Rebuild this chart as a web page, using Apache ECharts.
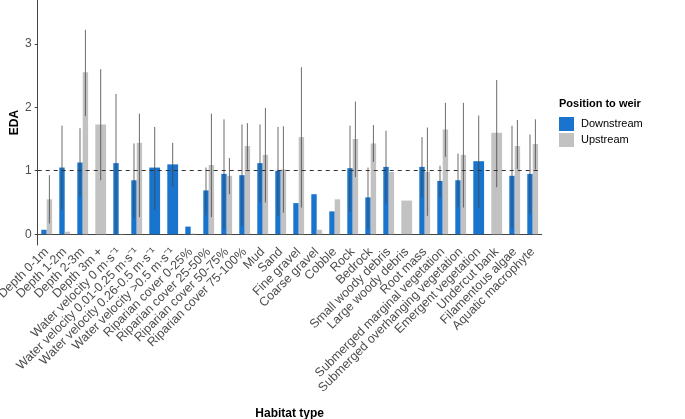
<!DOCTYPE html>
<html>
<head>
<meta charset="utf-8">
<script src="https://cdn.jsdelivr.net/npm/echarts@6/dist/echarts.min.js"></script>
<style>
  html, body { margin: 0; padding: 0; background: #fff; }
  #chart { width: 685px; height: 419px; }
</style>
</head>
<body>
<div id="chart"></div>
<script>
"use strict";

// EDA by habitat type, downstream vs upstream of the weir
var categories = [
    'Depth 0-1m', 'Depth 1-2m', 'Depth 2-3m', 'Depth 3m +',
    'Water velocity 0 m·s⁻¹', 'Water velocity 0.01-0.25 m·s⁻¹',
    'Water velocity 0.26-0.5 m·s⁻¹', 'Water velocity >0.5 m·s⁻¹',
    'Riparian cover 0-25%', 'Riparian cover 25-50%', 'Riparian cover 50-75%', 'Riparian cover 75-100%',
    'Mud', 'Sand', 'Fine gravel', 'Coarse gravel', 'Cobble', 'Rock', 'Bedrock',
    'Small woody debris', 'Large woody debris', 'Root mass',
    'Submerged marginal vegetation', 'Submerged overhanging vegetation',
    'Emergent vegetation', 'Undercut bank', 'Filamentous algae', 'Aquatic macrophyte'
];

var downMean = [0.07, 1.05, 1.13, null, 1.12, 0.85, 1.05, 1.10, 0.12, 0.69, 0.95, 0.93, 1.12, 1.00,
    0.49, 0.63, 0.36, 1.04, 0.58, 1.06, null, 1.06, 0.84, 0.85, 1.15, null, 0.92, 0.95];
var downLo = [null, 0.38, 0.59, null, 0.02, 0.25, 0.39, 0.75, null, 0.30, 0.08, 0.13, 0.50, 0.29,
    null, null, null, 0.35, 0.08, 0.49, null, 0.58, 0.58, 0.42, 0.42, null, 0.10, 0.31];
var downHi = [null, 1.71, 1.67, null, 2.21, 1.43, 1.69, 1.44, null, 1.05, 1.81, 1.73, 1.73, 1.69,
    null, null, null, 1.71, 1.05, 1.63, null, 1.53, 1.08, 1.27, 1.87, null, 1.71, 1.57];

var upMean = [0.55, 0.04, 2.55, 1.73, 0.005, 1.44, null, null, 0.01, 1.09, 0.92, 1.39, 1.25, 1.02,
    1.53, 0.07, 0.55, 1.50, 1.43, 0.98, 0.53, 0.98, 1.65, 1.25, null, 1.60, 1.39, 1.42];
var upLo = [0.17, null, 1.86, 0.85, null, 0.27, null, null, null, 0.27, 0.63, 1.02, 0.50, 0.34,
    0.42, null, null, 0.90, 1.14, null, null, 0.29, 1.22, 0.42, null, 0.74, 1.03, 1.02];
var upHi = [0.93, null, 3.22, 2.60, null, 1.90, null, null, null, 1.90, 1.20, 1.75, 1.99, 1.70,
    2.63, null, null, 2.09, 1.72, null, null, 1.68, 2.07, 2.07, null, 2.43, 1.80, 1.81];

var yTicks = [0, 1, 2, 3];

var BLUE = '#1874CD';
var GREY = '#C2C2C2';

// [cat, mean, lo, hi, slot, nGroups]
function buildData(mean, lo, hi, isUp) {
    var out = [];
    for (var i = 0; i < categories.length; i++) {
        if (mean[i] === null) continue;
        var both = downMean[i] !== null && upMean[i] !== null;
        out.push([i, mean[i],
            lo[i] === null ? 0 : lo[i],
            hi[i] === null ? 0 : hi[i],
            both ? (isUp ? 1 : 0) : 0,
            both ? 2 : 1]);
    }
    return out;
}

function renderBar(params, api) {
    var cat = api.value(0), val = api.value(1);
    var lo = api.value(2), hi = api.value(3);
    var slot = api.value(4), n = api.value(5);
    var band = api.size([1, 0])[0];
    var total = band * 0.6;
    var w = total / n;
    var base = api.coord([cat, 0]);
    var top = api.coord([cat, val]);
    var x0 = base[0] - total / 2 + slot * w;
    var children = [{
        type: 'rect',
        shape: { x: x0, y: top[1], width: w, height: base[1] - top[1] },
        style: { fill: api.visual('color') }
    }];
    if (hi > lo) {
        var pLo = api.coord([cat, lo]);
        var pHi = api.coord([cat, hi]);
        var xc = x0 + w / 2;
        children.push({
            type: 'line',
            shape: { x1: xc, y1: pLo[1], x2: xc, y2: pHi[1] },
            style: { stroke: 'rgba(70,70,70,0.8)', lineWidth: 1 },
            z2: 10
        });
    }
    return { type: 'group', children: children };
}

var myChart = echarts.init(document.getElementById('chart'));

var option = {
    animation: false,
    textStyle: { fontFamily: 'Liberation Sans, Arial, sans-serif' },
    title: {
        text: 'Position to weir',
        left: 559, top: 98,
        padding: 0,
        textStyle: { fontSize: 11, fontWeight: 'bold', color: '#000' }
    },
    legend: {
        orient: 'vertical',
        left: 559, top: 117,
        padding: 0,
        itemWidth: 15, itemHeight: 14, itemGap: 2,
        icon: 'rect',
        data: ['Downstream', 'Upstream'],
        textStyle: { fontSize: 11, color: '#000', padding: [0, 0, 0, 2] }
    },
    // y axis title
    graphic: [{
        type: 'text',
        x: 15, y: 122.5,
        rotation: Math.PI / 2,
        style: {
            text: 'EDA',
            align: 'center',
            verticalAlign: 'middle',
            font: 'bold 12px "Liberation Sans", Arial, sans-serif',
            fill: '#000'
        }
    }],
    grid: {
        left: 37.7, right: 143.3, top: 0, bottom: 174,
        containLabel: false,
        outerBoundsMode: 'none'
    },
    xAxis: {
        type: 'category',
        data: categories,
        name: 'Habitat type',
        nameLocation: 'middle',
        nameGap: 163,
        nameTextStyle: { fontSize: 12, fontWeight: 'bold', color: '#000' },
        axisLine: { lineStyle: { color: '#444', width: 1 } },
        axisTick: { alignWithLabel: true, length: 3, lineStyle: { color: '#444' } },
        axisLabel: { rotate: 45, fontSize: 12.5, color: '#4D4D4D', margin: 5, interval: 0 },
        splitLine: { show: false }
    },
    yAxis: {
        type: 'value',
        min: -0.17, max: 3.69,
        axisLine: { show: true, lineStyle: { color: '#444', width: 1 } },
        axisTick: { show: true, length: 3, customValues: yTicks, lineStyle: { color: '#444' } },
        axisLabel: { fontSize: 12, color: '#4D4D4D', margin: 6, customValues: yTicks },
        splitLine: { show: false }
    },
    series: [
        {
            name: 'Downstream',
            type: 'custom',
            renderItem: renderBar,
            itemStyle: { color: BLUE },
            encode: { x: 0, y: 1 },
            data: buildData(downMean, downLo, downHi, false),
            markLine: {
                silent: true,
                symbol: 'none',
                label: { show: false },
                lineStyle: { color: '#333', type: [4, 4], width: 1 },
                data: [{ yAxis: 1 }],
                z: 20
            }
        },
        {
            name: 'Upstream',
            type: 'custom',
            renderItem: renderBar,
            itemStyle: { color: GREY },
            encode: { x: 0, y: 1 },
            data: buildData(upMean, upLo, upHi, true)
        }
    ]
};

myChart.setOption(option);
</script>
</body>
</html>
